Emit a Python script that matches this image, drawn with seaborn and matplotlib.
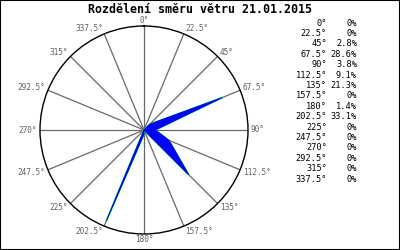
import numpy as np
import matplotlib
matplotlib.use("Agg")
import matplotlib.pyplot as plt
from matplotlib.patches import Rectangle
import seaborn as sns

directions = [0, 22.5, 45, 67.5, 90, 112.5, 135, 157.5,
              180, 202.5, 225, 247.5, 270, 292.5, 315, 337.5]
values = [0, 0, 2.8, 28.6, 3.8, 9.1, 21.3, 0,
          1.4, 33.1, 0, 0, 0, 0, 0, 0]
dir_labels = ["0°", "22.5°", "45°", "67.5°", "90°", "112.5°", "135°", "157.5°",
              "180°", "202.5°", "225°", "247.5°", "270°", "292.5°", "315°", "337.5°"]
pct_labels = ["0%", "0%", "2.8%", "28.6%", "3.8%", "9.1%", "21.3%", "0%",
              "1.4%", "33.1%", "0%", "0%", "0%", "0%", "0%", "0%"]
title = "Rozdělení směru větru 21.01.2015"

sns.set_style("white")
plt.rcParams['font.family'] = ['DejaVu Sans Mono', 'DejaVu Sans']

fig = plt.figure(figsize=(4, 2.5), dpi=100)
fig.patch.set_facecolor("white")
ax = fig.add_axes([0.1, 0.064, 0.52, 0.832], projection="polar")
ax.set_theta_zero_location("N")
ax.set_theta_direction(-1)
rmax = 35.0
ax.set_ylim(0, rmax)
ax.set_rticks([])
ax.set_thetagrids(directions, labels=[""] * len(directions))
ax.grid(True, axis="x", color="#686868", linewidth=0.9)
ax.grid(False, axis="y")
ax.spines["polar"].set_color("black")
ax.spines["polar"].set_linewidth(1.0)
ax.set_facecolor("white")

theta = np.deg2rad(np.array(directions + [directions[0]]))
rr = np.array(values + [values[0]])
sns.lineplot(x=theta, y=rr, sort=False, ax=ax, color="#00ff00",
             linewidth=1.1, zorder=3, legend=False)
ax.fill(theta, rr, facecolor="#0000ff", edgecolor="#0000ff", zorder=4, linewidth=0.7)
ax.set_xlabel("")
ax.set_ylabel("")

for d, lab in zip(directions, dir_labels):
    t = np.deg2rad(d)
    s, c = np.sin(t), np.cos(t)
    if s > 0.2:
        ha = "left"
    elif s < -0.2:
        ha = "right"
    else:
        ha = "center"
    ax.annotate(lab, xy=(t, rmax), xytext=(3 * s, 6 * c),
                textcoords="offset pixels", ha=ha, va="center",
                fontsize=5.6, color="#606060", annotation_clip=False)

fig.text(0.5, 1 - 9.5 / 250, title, ha="center", va="center",
         fontsize=8.4, fontweight="bold", color="black")

y0 = 23.0
dy = 10.4
for i, (a, p) in enumerate(zip(dir_labels, pct_labels)):
    y = 1 - (y0 + i * dy) / 250
    fig.text(327 / 400, y, a, ha="right", va="center", fontsize=6.2, color="black")
    fig.text(357 / 400, y, p, ha="right", va="center", fontsize=6.2, color="black")

fig.add_artist(Rectangle((0, 0), 1, 1, transform=fig.transFigure, fill=False,
                         edgecolor="black", linewidth=1.5))

fig.savefig("out.png", dpi=100, facecolor="white")
